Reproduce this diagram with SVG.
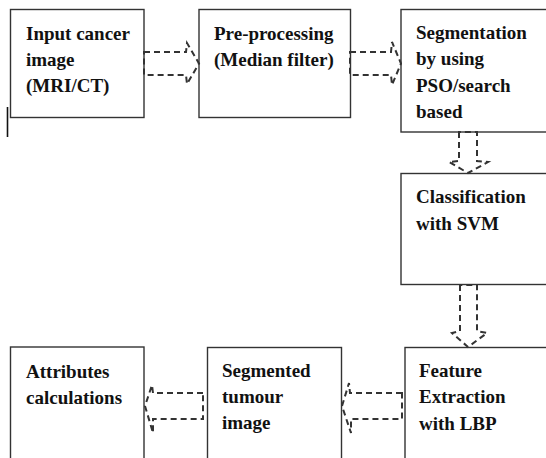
<svg xmlns="http://www.w3.org/2000/svg" width="546" height="458" viewBox="0 0 546 458">
<style>
.box{fill:#fff;stroke:#333;stroke-width:1.4}
.t{font-family:'Liberation Serif','DejaVu Serif',serif;font-weight:700;font-size:19px;fill:#111}
.arr{fill:none;stroke:#333;stroke-width:2;stroke-dasharray:6 4}
</style>
<rect width="546" height="458" fill="#fff"/>
<line x1="7.5" y1="107" x2="7.5" y2="137" stroke="#111" stroke-width="1.6"/>
<g id="n1"><rect class="box" x="10.5" y="9.5" width="133.5" height="108"/>
<text class="t" x="26" y="40">Input cancer</text><text class="t" x="26" y="66">image</text><text class="t" x="26" y="92">(MRI/CT)</text></g>
<g id="n2"><rect class="box" x="199" y="9.5" width="151.5" height="108"/>
<text class="t" x="214" y="40">Pre-processing</text><text class="t" x="214" y="66">(Median filter)</text></g>
<g id="n3"><rect class="box" x="401" y="9.5" width="150" height="122.5"/>
<text class="t" x="416" y="39">Segmentation</text><text class="t" x="416" y="65">by using</text><text class="t" x="416" y="92">PSO/search</text><text class="t" x="416" y="118">based</text></g>
<g id="n4"><rect class="box" x="401" y="173.5" width="150" height="111"/>
<text class="t" x="416" y="203">Classification</text><text class="t" x="416" y="230">with SVM</text></g>
<g id="n5"><rect class="box" x="405" y="347.5" width="150" height="120"/>
<text class="t" x="419" y="377">Feature</text><text class="t" x="419" y="403">Extraction</text><text class="t" x="419" y="430">with LBP</text></g>
<g id="n6"><rect class="box" x="207.5" y="347.5" width="134" height="120"/>
<text class="t" x="222" y="377">Segmented</text><text class="t" x="222" y="403">tumour</text><text class="t" x="222" y="429">image</text></g>
<g id="n7"><rect class="box" x="10.5" y="347" width="133.5" height="120"/>
<text class="t" x="26" y="378">Attributes</text><text class="t" x="26" y="404">calculations</text></g>
<g id="connectors">
<path class="arr" d="M144,52 H186 L187,43 L199,63.5 L187,84 L186,75 H144 Z"/>
<path class="arr" d="M350,52 H391 L392,42 L401,63.5 L392,85 L391,75 H350 Z"/>
<path class="arr" d="M459,132 V161 L449,162 L468,173 L488,162 L477,161 V132 Z"/>
<path class="arr" d="M460,285 V331 L452,333 L468,347 L487,333 L477,331 V285 Z"/>
<path class="arr" d="M402,393 H350 L349,383 L342,406 L351,433 L351,419 H402 Z"/>
<path class="arr" d="M203,393 H153 L152,385 L145,406 L153,433 L153,419 H203 Z"/>
</g>
</svg>
